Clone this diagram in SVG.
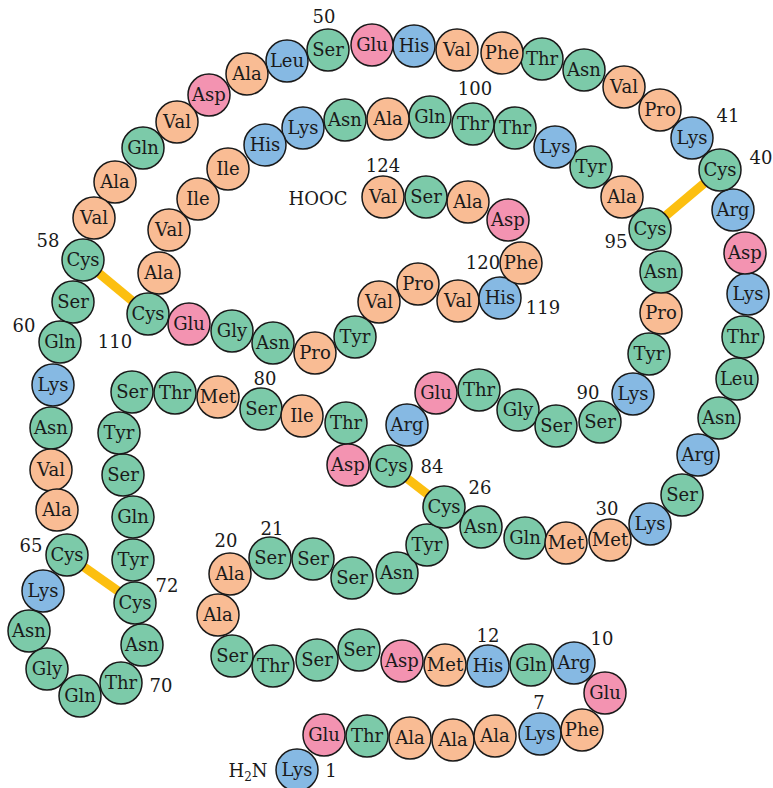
<svg xmlns="http://www.w3.org/2000/svg" width="773" height="788" viewBox="0 0 773 788">
<style>
circle{stroke:#1a1a1a;stroke-width:1.5}
.g circle{fill:#7ccaa9}.o circle{fill:#f9bc94}.b circle{fill:#86b9e3}.p circle{fill:#f393b1}
text{fill:#1a1a1a}
.n text{font-size:18px;text-anchor:middle}
.lab text{font-size:18px;text-anchor:middle}
.ss{stroke:#fcbf10;stroke-width:9;stroke-linecap:butt}
</style>
<rect width="773" height="788" fill="#fff"/>
<g id="connectors">
<line class="ss" x1="444" y1="507" x2="391" y2="466"/>
<line class="ss" x1="720" y1="170" x2="650" y2="229"/>
<line class="ss" x1="83" y1="260" x2="148" y2="314"/>
<line class="ss" x1="67" y1="555" x2="135" y2="603"/>
</g>
<g class="n" font-family="'DejaVu Serif', serif">
<g id="r1" class="b"><circle cx="297" cy="770" r="21"/><text x="297" y="776">Lys</text></g>
<g id="r2" class="p"><circle cx="324" cy="735" r="21"/><text x="324" y="741">Glu</text></g>
<g id="r3" class="g"><circle cx="367" cy="736" r="21"/><text x="367" y="742">Thr</text></g>
<g id="r4" class="o"><circle cx="410" cy="738" r="21"/><text x="410" y="744">Ala</text></g>
<g id="r5" class="o"><circle cx="453" cy="740" r="21"/><text x="453" y="746">Ala</text></g>
<g id="r6" class="o"><circle cx="495" cy="736" r="21"/><text x="495" y="742">Ala</text></g>
<g id="r7" class="b"><circle cx="540" cy="734" r="21"/><text x="540" y="740">Lys</text></g>
<g id="r8" class="o"><circle cx="582" cy="730" r="21"/><text x="582" y="736">Phe</text></g>
<g id="r9" class="p"><circle cx="605" cy="693" r="21"/><text x="605" y="699">Glu</text></g>
<g id="r10" class="b"><circle cx="574" cy="663" r="21"/><text x="574" y="669">Arg</text></g>
<g id="r11" class="g"><circle cx="531" cy="665" r="21"/><text x="531" y="671">Gln</text></g>
<g id="r12" class="b"><circle cx="488" cy="666" r="21"/><text x="488" y="672">His</text></g>
<g id="r13" class="o"><circle cx="445" cy="665" r="21"/><text x="445" y="671">Met</text></g>
<g id="r14" class="p"><circle cx="402" cy="661" r="21"/><text x="402" y="667">Asp</text></g>
<g id="r15" class="g"><circle cx="359" cy="650" r="21"/><text x="359" y="656">Ser</text></g>
<g id="r16" class="g"><circle cx="317" cy="660" r="21"/><text x="317" y="666">Ser</text></g>
<g id="r17" class="g"><circle cx="273" cy="666" r="21"/><text x="273" y="672">Thr</text></g>
<g id="r18" class="g"><circle cx="232" cy="656" r="21"/><text x="232" y="662">Ser</text></g>
<g id="r19" class="o"><circle cx="218" cy="615" r="21"/><text x="218" y="621">Ala</text></g>
<g id="r20" class="o"><circle cx="230" cy="574" r="21"/><text x="230" y="580">Ala</text></g>
<g id="r21" class="g"><circle cx="270" cy="558" r="21"/><text x="270" y="564">Ser</text></g>
<g id="r22" class="g"><circle cx="313" cy="559" r="21"/><text x="313" y="565">Ser</text></g>
<g id="r23" class="g"><circle cx="352" cy="578" r="21"/><text x="352" y="584">Ser</text></g>
<g id="r24" class="g"><circle cx="397" cy="573" r="21"/><text x="397" y="579">Asn</text></g>
<g id="r25" class="g"><circle cx="427" cy="545" r="21"/><text x="427" y="551">Tyr</text></g>
<g id="r26" class="g"><circle cx="444" cy="507" r="21"/><text x="444" y="513">Cys</text></g>
<g id="r27" class="g"><circle cx="481" cy="527" r="21"/><text x="481" y="533">Asn</text></g>
<g id="r28" class="g"><circle cx="525" cy="538" r="21"/><text x="525" y="544">Gln</text></g>
<g id="r29" class="o"><circle cx="566" cy="543" r="21"/><text x="566" y="549">Met</text></g>
<g id="r30" class="o"><circle cx="610" cy="540" r="21"/><text x="610" y="546">Met</text></g>
<g id="r31" class="b"><circle cx="650" cy="524" r="21"/><text x="650" y="530">Lys</text></g>
<g id="r32" class="g"><circle cx="682" cy="495" r="21"/><text x="682" y="501">Ser</text></g>
<g id="r33" class="b"><circle cx="698" cy="455" r="21"/><text x="698" y="461">Arg</text></g>
<g id="r34" class="g"><circle cx="719" cy="418" r="21"/><text x="719" y="424">Asn</text></g>
<g id="r35" class="g"><circle cx="737" cy="379" r="21"/><text x="737" y="385">Leu</text></g>
<g id="r36" class="g"><circle cx="743" cy="337" r="21"/><text x="743" y="343">Thr</text></g>
<g id="r37" class="b"><circle cx="748" cy="294" r="21"/><text x="748" y="300">Lys</text></g>
<g id="r38" class="p"><circle cx="745" cy="253" r="21"/><text x="745" y="259">Asp</text></g>
<g id="r39" class="b"><circle cx="733" cy="210" r="21"/><text x="733" y="216">Arg</text></g>
<g id="r40" class="g"><circle cx="720" cy="170" r="21"/><text x="720" y="176">Cys</text></g>
<g id="r41" class="b"><circle cx="692" cy="138" r="21"/><text x="692" y="144">Lys</text></g>
<g id="r42" class="o"><circle cx="660" cy="110" r="21"/><text x="660" y="116">Pro</text></g>
<g id="r43" class="o"><circle cx="624" cy="87" r="21"/><text x="624" y="93">Val</text></g>
<g id="r44" class="g"><circle cx="584" cy="70" r="21"/><text x="584" y="76">Asn</text></g>
<g id="r45" class="g"><circle cx="542" cy="59" r="21"/><text x="542" y="65">Thr</text></g>
<g id="r46" class="o"><circle cx="502" cy="53" r="21"/><text x="502" y="59">Phe</text></g>
<g id="r47" class="o"><circle cx="457" cy="50" r="21"/><text x="457" y="56">Val</text></g>
<g id="r48" class="b"><circle cx="414" cy="46" r="21"/><text x="414" y="52">His</text></g>
<g id="r49" class="p"><circle cx="372" cy="45" r="21"/><text x="372" y="51">Glu</text></g>
<g id="r50" class="g"><circle cx="328" cy="50" r="21"/><text x="328" y="56">Ser</text></g>
<g id="r51" class="b"><circle cx="287" cy="61" r="21"/><text x="287" y="67">Leu</text></g>
<g id="r52" class="o"><circle cx="247" cy="74" r="21"/><text x="247" y="80">Ala</text></g>
<g id="r53" class="p"><circle cx="209" cy="95" r="21"/><text x="209" y="101">Asp</text></g>
<g id="r54" class="o"><circle cx="177" cy="122" r="21"/><text x="177" y="128">Val</text></g>
<g id="r55" class="g"><circle cx="143" cy="148" r="21"/><text x="143" y="154">Gln</text></g>
<g id="r56" class="o"><circle cx="115" cy="182" r="21"/><text x="115" y="188">Ala</text></g>
<g id="r57" class="o"><circle cx="94" cy="218" r="21"/><text x="94" y="224">Val</text></g>
<g id="r58" class="g"><circle cx="83" cy="260" r="21"/><text x="83" y="266">Cys</text></g>
<g id="r59" class="g"><circle cx="73" cy="302" r="21"/><text x="73" y="308">Ser</text></g>
<g id="r60" class="g"><circle cx="60" cy="342" r="21"/><text x="60" y="348">Gln</text></g>
<g id="r61" class="b"><circle cx="53" cy="385" r="21"/><text x="53" y="391">Lys</text></g>
<g id="r62" class="g"><circle cx="51" cy="428" r="21"/><text x="51" y="434">Asn</text></g>
<g id="r63" class="o"><circle cx="51" cy="470" r="21"/><text x="51" y="476">Val</text></g>
<g id="r64" class="o"><circle cx="57" cy="510" r="21"/><text x="57" y="516">Ala</text></g>
<g id="r65" class="g"><circle cx="67" cy="555" r="21"/><text x="67" y="561">Cys</text></g>
<g id="r66" class="b"><circle cx="43" cy="591" r="21"/><text x="43" y="597">Lys</text></g>
<g id="r67" class="g"><circle cx="29" cy="631" r="21"/><text x="29" y="637">Asn</text></g>
<g id="r68" class="g"><circle cx="47" cy="669" r="21"/><text x="47" y="675">Gly</text></g>
<g id="r69" class="g"><circle cx="80" cy="696" r="21"/><text x="80" y="702">Gln</text></g>
<g id="r70" class="g"><circle cx="121" cy="683" r="21"/><text x="121" y="689">Thr</text></g>
<g id="r71" class="g"><circle cx="142" cy="645" r="21"/><text x="142" y="651">Asn</text></g>
<g id="r72" class="g"><circle cx="135" cy="603" r="21"/><text x="135" y="609">Cys</text></g>
<g id="r73" class="g"><circle cx="133" cy="560" r="21"/><text x="133" y="566">Tyr</text></g>
<g id="r74" class="g"><circle cx="133" cy="517" r="21"/><text x="133" y="523">Gln</text></g>
<g id="r75" class="g"><circle cx="123" cy="475" r="21"/><text x="123" y="481">Ser</text></g>
<g id="r76" class="g"><circle cx="119" cy="433" r="21"/><text x="119" y="439">Tyr</text></g>
<g id="r77" class="g"><circle cx="132" cy="392" r="21"/><text x="132" y="398">Ser</text></g>
<g id="r78" class="g"><circle cx="175" cy="393" r="21"/><text x="175" y="399">Thr</text></g>
<g id="r79" class="o"><circle cx="218" cy="397" r="21"/><text x="218" y="403">Met</text></g>
<g id="r80" class="g"><circle cx="261" cy="409" r="21"/><text x="261" y="415">Ser</text></g>
<g id="r81" class="o"><circle cx="302" cy="416" r="21"/><text x="302" y="422">Ile</text></g>
<g id="r82" class="g"><circle cx="346" cy="423" r="21"/><text x="346" y="429">Thr</text></g>
<g id="r83" class="p"><circle cx="348" cy="465" r="21"/><text x="348" y="471">Asp</text></g>
<g id="r84" class="g"><circle cx="391" cy="466" r="21"/><text x="391" y="472">Cys</text></g>
<g id="r85" class="b"><circle cx="407" cy="425" r="21"/><text x="407" y="431">Arg</text></g>
<g id="r86" class="p"><circle cx="436" cy="393" r="21"/><text x="436" y="399">Glu</text></g>
<g id="r87" class="g"><circle cx="479" cy="390" r="21"/><text x="479" y="396">Thr</text></g>
<g id="r88" class="g"><circle cx="518" cy="410" r="21"/><text x="518" y="416">Gly</text></g>
<g id="r89" class="g"><circle cx="556" cy="426" r="21"/><text x="556" y="432">Ser</text></g>
<g id="r90" class="g"><circle cx="600" cy="422" r="21"/><text x="600" y="428">Ser</text></g>
<g id="r91" class="b"><circle cx="633" cy="394" r="21"/><text x="633" y="400">Lys</text></g>
<g id="r92" class="g"><circle cx="649" cy="354" r="21"/><text x="649" y="360">Tyr</text></g>
<g id="r93" class="o"><circle cx="661" cy="313" r="21"/><text x="661" y="319">Pro</text></g>
<g id="r94" class="g"><circle cx="661" cy="272" r="21"/><text x="661" y="278">Asn</text></g>
<g id="r95" class="g"><circle cx="650" cy="229" r="21"/><text x="650" y="235">Cys</text></g>
<g id="r96" class="o"><circle cx="622" cy="197" r="21"/><text x="622" y="203">Ala</text></g>
<g id="r97" class="g"><circle cx="591" cy="167" r="21"/><text x="591" y="173">Tyr</text></g>
<g id="r98" class="b"><circle cx="555" cy="147" r="21"/><text x="555" y="153">Lys</text></g>
<g id="r99" class="g"><circle cx="515" cy="128" r="21"/><text x="515" y="134">Thr</text></g>
<g id="r100" class="g"><circle cx="473" cy="124" r="21"/><text x="473" y="130">Thr</text></g>
<g id="r101" class="g"><circle cx="430" cy="117" r="21"/><text x="430" y="123">Gln</text></g>
<g id="r102" class="o"><circle cx="388" cy="119" r="21"/><text x="388" y="125">Ala</text></g>
<g id="r103" class="g"><circle cx="345" cy="120" r="21"/><text x="345" y="126">Asn</text></g>
<g id="r104" class="b"><circle cx="303" cy="128" r="21"/><text x="303" y="134">Lys</text></g>
<g id="r105" class="b"><circle cx="265" cy="145" r="21"/><text x="265" y="151">His</text></g>
<g id="r106" class="o"><circle cx="228" cy="169" r="21"/><text x="228" y="175">Ile</text></g>
<g id="r107" class="o"><circle cx="198" cy="199" r="21"/><text x="198" y="205">Ile</text></g>
<g id="r108" class="o"><circle cx="169" cy="230" r="21"/><text x="169" y="236">Val</text></g>
<g id="r109" class="o"><circle cx="159" cy="273" r="21"/><text x="159" y="279">Ala</text></g>
<g id="r110" class="g"><circle cx="148" cy="314" r="21"/><text x="148" y="320">Cys</text></g>
<g id="r111" class="p"><circle cx="189" cy="324" r="21"/><text x="189" y="330">Glu</text></g>
<g id="r112" class="g"><circle cx="232" cy="331" r="21"/><text x="232" y="337">Gly</text></g>
<g id="r113" class="g"><circle cx="273" cy="343" r="21"/><text x="273" y="349">Asn</text></g>
<g id="r114" class="o"><circle cx="315" cy="353" r="21"/><text x="315" y="359">Pro</text></g>
<g id="r115" class="g"><circle cx="355" cy="337" r="21"/><text x="355" y="343">Tyr</text></g>
<g id="r116" class="o"><circle cx="379" cy="302" r="21"/><text x="379" y="308">Val</text></g>
<g id="r117" class="o"><circle cx="418" cy="284" r="21"/><text x="418" y="290">Pro</text></g>
<g id="r118" class="o"><circle cx="458" cy="301" r="21"/><text x="458" y="307">Val</text></g>
<g id="r119" class="b"><circle cx="500" cy="298" r="21"/><text x="500" y="304">His</text></g>
<g id="r120" class="o"><circle cx="521" cy="263" r="21"/><text x="521" y="269">Phe</text></g>
<g id="r121" class="p"><circle cx="508" cy="220" r="21"/><text x="508" y="226">Asp</text></g>
<g id="r122" class="o"><circle cx="468" cy="202" r="21"/><text x="468" y="208">Ala</text></g>
<g id="r123" class="g"><circle cx="426" cy="197" r="21"/><text x="426" y="203">Ser</text></g>
<g id="r124" class="o"><circle cx="383" cy="197" r="21"/><text x="383" y="203">Val</text></g>
</g>
<g id="labels" class="lab" font-family="'DejaVu Serif', serif">
<text x="324" y="23">50</text>
<text x="475" y="95">100</text>
<text x="383" y="172">124</text>
<text x="728" y="122">41</text>
<text x="761" y="164">40</text>
<text x="616" y="248">95</text>
<text x="48" y="247">58</text>
<text x="24" y="332">60</text>
<text x="115" y="348">110</text>
<text x="265" y="385">80</text>
<text x="483" y="269">120</text>
<text x="543" y="314">119</text>
<text x="588" y="399">90</text>
<text x="432" y="473">84</text>
<text x="480" y="494">26</text>
<text x="607" y="515">30</text>
<text x="31" y="552">65</text>
<text x="167" y="592">72</text>
<text x="161" y="692">70</text>
<text x="226" y="547">20</text>
<text x="272" y="535">21</text>
<text x="488" y="642">12</text>
<text x="602" y="645">10</text>
<text x="539" y="709">7</text>
<text x="331" y="777">1</text>
<text x="318" y="205" font-size="19">HOOC</text>
<text x="248" y="777">H<tspan font-size="12" dy="4">2</tspan><tspan dy="-4">N</tspan></text>
</g>
</svg>
